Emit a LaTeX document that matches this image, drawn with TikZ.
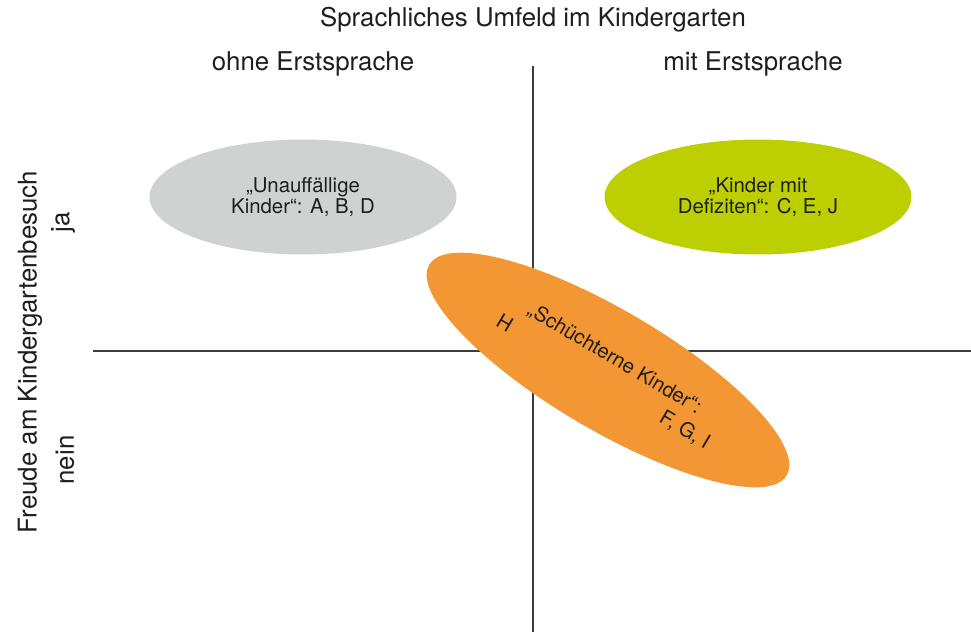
\documentclass[tikz,border=0pt]{standalone}
\usepackage{fontspec}
\setmainfont{TeX Gyre Heros}
\usetikzlibrary{shapes.geometric}
\definecolor{achse}{RGB}{60,60,60}
\definecolor{schrift}{RGB}{30,30,30}
\definecolor{grau}{RGB}{208,210,209}
\definecolor{gruen}{RGB}{189,207,0}
\definecolor{kiorange}{RGB}{243,150,52}
\newcommand{\gross}{\fontsize{14.7}{17.6}\selectfont}
\newcommand{\klein}{\fontsize{11.6}{11.6}\selectfont}

\begin{document}
\begin{tikzpicture}[x=0.02cm,y=-0.02cm,
    beschriftung/.style={font=\gross,text=schrift,inner sep=0pt},
    feld/.style={ellipse,inner sep=0pt,minimum width=6.14cm,minimum height=2.3cm,
        align=center,font=\klein,text=schrift}]
    \useasboundingbox (0,0) rectangle (971,632);

    % Axes
    \coordinate (oben) at (533,66);
    \coordinate (unten) at (533,632);
    \coordinate (links) at (93,351);
    \coordinate (rechts) at (971,351);
    \draw[achse,line width=0.85pt] (oben) -- (unten);
    \draw[achse,line width=0.85pt] (links) -- (rechts);

    % Axis labels
    \node[beschriftung] (umfeld) at (533,20) {Sprachliches Umfeld im Kindergarten};
    \node[beschriftung] (ohne) at (313,64) {ohne Erstsprache};
    \node[beschriftung] (mit) at (753,64) {mit Erstsprache};
    \node[beschriftung,rotate=90] (freude) at (30,352) {Freude am Kindergartenbesuch};
    \node[beschriftung,rotate=90] (ja) at (63,222) {ja};
    \node[beschriftung,rotate=90] (nein) at (65,460) {nein};

    % Groups
    \node[feld,fill=grau] (unauffaellig) at (303,197) {„Unauffällige\\Kinder“: A, B, D};
    \node[feld,fill=gruen] (defizite) at (758,197) {„Kinder mit\\Defiziten“: C, E, J};
    \node[feld,fill=kiorange,rotate=-30.5,minimum width=8.3cm,minimum height=2.4cm,
        align=right,font=\fontsize{11.6}{14.8}\selectfont] (schuechtern) at (608,370)
        {„Schüchterne Kinder“:\\F, G, I\hspace*{-0.5cm}};
    \node[font=\klein,text=schrift,rotate=-30.5] (h) at (505,323) {H};

\end{tikzpicture}
\end{document}
